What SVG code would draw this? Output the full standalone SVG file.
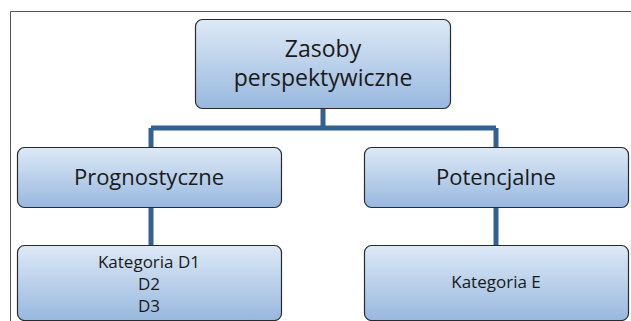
<svg xmlns="http://www.w3.org/2000/svg" width="631" height="321" viewBox="0 0 631 321">
  <defs>
    <linearGradient id="boxFill" x1="0" y1="0" x2="0" y2="1">
      <stop offset="0" stop-color="#dde9f6"/>
      <stop offset="1" stop-color="#98b8df"/>
    </linearGradient>
  </defs>
  <style>
    .box { fill: url(#boxFill); stroke: #2b2b2b; stroke-width: 1.2; }
    .lbl { font-family: "Open Sans", "Liberation Sans", sans-serif; fill: #1a1a1a; text-anchor: middle; }
    .link { stroke: #336190; stroke-width: 5; fill: none; }
    .frame { stroke: #555; stroke-width: 1; fill: none; }
  </style>
  <rect width="631" height="321" fill="#ffffff"/>
  <!-- outer frame -->
  <path class="frame" d="M10.5 321 V11.5 H631"/>

  <g id="connectors">
    <path class="link" d="M323 109 V128 M151 128 H496 M151 128 V147 M496 128 V147"/>
    <path class="link" d="M151 208 V245"/>
    <path class="link" d="M496 208 V245"/>
  </g>

  <g id="zasoby">
    <rect class="box" x="195.5" y="19.5" width="255" height="89" rx="7"/>
    <text class="lbl" x="323" y="56.5" font-size="23">Zasoby</text>
    <text class="lbl" x="323" y="86" font-size="23">perspektywiczne</text>
  </g>

  <g id="prognostyczne">
    <rect class="box" x="17.5" y="147.5" width="264" height="60" rx="7"/>
    <text class="lbl" x="149" y="185" font-size="22">Prognostyczne</text>
  </g>

  <g id="potencjalne">
    <rect class="box" x="364.5" y="147.5" width="264" height="60" rx="7"/>
    <text class="lbl" x="496" y="185" font-size="22">Potencjalne</text>
  </g>

  <g id="kategoria-d">
    <rect class="box" x="17.5" y="245.5" width="264" height="75" rx="7"/>
    <text class="lbl" x="149" y="268" font-size="17">Kategoria D1</text>
    <text class="lbl" x="149" y="290" font-size="17">D2</text>
    <text class="lbl" x="149" y="312" font-size="17">D3</text>
  </g>

  <g id="kategoria-e">
    <rect class="box" x="364.5" y="245.5" width="264" height="75" rx="7"/>
    <text class="lbl" x="496" y="288" font-size="17">Kategoria E</text>
  </g>
</svg>
